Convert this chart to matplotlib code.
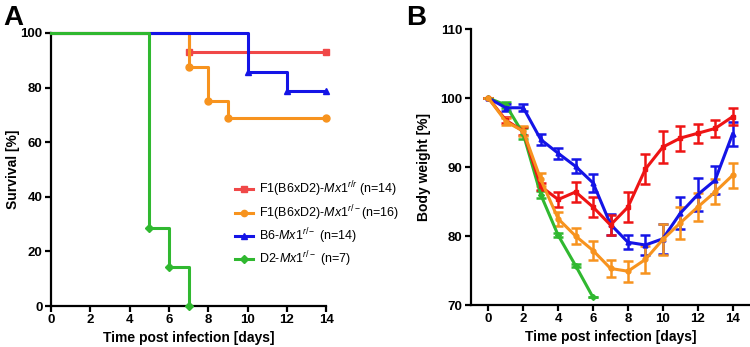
import matplotlib
matplotlib.use("Agg")
import matplotlib.pyplot as plt

plt.rcParams["font.family"] = ["Liberation Sans", "DejaVu Sans"]
plt.rcParams["mathtext.fontset"] = "custom"
plt.rcParams["mathtext.rm"] = "Liberation Sans"
plt.rcParams["mathtext.it"] = "Liberation Sans:italic"

# ---- panel A: survival (Kaplan-Meier steps) ----
surv_labels = [r"F1(B6xD2)-$\mathit{Mx1}^{r/r}$ (n=14)",
               r"F1(B6xD2)-$\mathit{Mx1}^{r/-}$(n=16)",
               r"B6-$\mathit{Mx1}^{r/-}$ (n=14)",
               r"D2-$\mathit{Mx1}^{r/-}$ (n=7)"]
surv_days = [[0, 7, 14],
             [0, 7, 8, 9, 14],
             [0, 10, 12, 14],
             [0, 5, 6, 7]]
surv_pct = [[100, 92.86, 92.86],
            [100, 87.5, 75, 68.75, 68.75],
            [100, 85.71, 78.57, 78.57],
            [100, 28.57, 14.29, 0]]

# ---- panel B: body weight (mean +- sem) ----
days = list(range(15))
w_red = [100, 96.8, 95.2, 87.2, 85.3, 86.4, 84.2, 81.6, 84.2, 89.7, 92.9, 94.2, 94.9, 95.6, 97.3]
e_red = [0, 0.4, 0.6, 0.5, 1.1, 1.5, 1.5, 1.5, 2.2, 2.2, 2.3, 1.8, 1.4, 1.2, 1.2]
w_blue = [100, 98.6, 98.6, 94.0, 92.0, 90.1, 87.7, 81.7, 79.1, 78.7, 79.6, 83.3, 86.0, 88.1, 94.8]
e_blue = [0, 0.5, 0.5, 0.8, 0.8, 1.0, 1.3, 1.5, 1.0, 1.5, 2.2, 2.3, 2.4, 2.0, 1.8]
w_orange = [100, 96.6, 95.2, 88.2, 82.5, 80.0, 77.9, 75.3, 74.9, 76.6, 79.5, 81.9, 84.2, 86.4, 88.8]
e_orange = [0, 0.5, 0.7, 1.0, 1.0, 1.2, 1.4, 1.2, 1.5, 2.0, 2.3, 2.3, 2.0, 1.8, 1.8]
days_green = list(range(7))
w_green = [100, 99.0, 94.8, 86.0, 80.1, 75.7, 71.1]
e_green = [0, 0.4, 0.8, 0.5, 0.3, 0.2, 0]

cols_a = ["#f04848", "#f7931e", "#1414e6", "#30b830"]
cols_b = {"red": "#ee1414", "orange": "#f7931e", "blue": "#1414e6", "green": "#30b830"}
marks = ["s", "o", "^", "D"]

fig = plt.figure(figsize=(7.5, 3.47), dpi=100)

axA = fig.add_axes([0.068, 0.118, 0.367, 0.787])
for i in range(4):
    axA.step(surv_days[i], surv_pct[i], where="post", color=cols_a[i], lw=2.2,
             clip_on=False, zorder=2 + i)
    axA.plot(surv_days[i][1:], surv_pct[i][1:], ls="none", marker=marks[i],
             ms=5 if marks[i] != "D" else 4, color=cols_a[i], clip_on=False, zorder=2 + i)
    axA.plot([], [], color=cols_a[i], lw=2.2, marker=marks[i], ms=4.5,
             label=surv_labels[i])
axA.set_xlim(0, 14)
axA.set_ylim(0, 100)
axA.set_xticks(range(0, 15, 2))
axA.set_yticks(range(0, 101, 20))
axA.set_xlabel("Time post infection [days]", fontsize=10, fontweight="bold", labelpad=3.5)
axA.set_ylabel("Survival [%]", fontsize=10, fontweight="bold", labelpad=0.5)
axA.legend(loc="upper left", bbox_to_anchor=(0.305, 0.5), bbox_transform=fig.transFigure,
           frameon=False, fontsize=9, handlelength=1.4, handletextpad=0.5,
           labelspacing=0.3, borderpad=0)

axB = fig.add_axes([0.628, 0.121, 0.372, 0.795])
series = [(days_green, w_green, e_green, "green", "D", 3),
          (days, w_blue, e_blue, "blue", "^", 3.5),
          (days, w_red, e_red, "red", "s", 3.5),
          (days, w_orange, e_orange, "orange", "o", 3.5)]
for x, y, e, c, m, ms in series:
    axB.errorbar(x, y, yerr=e, color=cols_b[c], lw=2.2, elinewidth=1.8,
                 capsize=3.5, capthick=1.8, marker=m, ms=ms)
axB.set_xlim(-1, 15)
axB.set_ylim(70, 110)
axB.set_xticks(range(0, 15, 2))
axB.set_yticks(range(70, 111, 10))
axB.set_xlabel("Time post infection [days]", fontsize=10, fontweight="bold", labelpad=3.5)
axB.set_ylabel("Body weight [%]", fontsize=10, fontweight="bold", labelpad=7)

for ax in (axA, axB):
    for s in ("top", "right"):
        ax.spines[s].set_visible(False)
    for s in ("left", "bottom"):
        ax.spines[s].set_linewidth(1.6)
    ax.tick_params(direction="out", length=4.5, width=1.6, labelsize=9.5, pad=1.5)
    for lab in ax.get_xticklabels() + ax.get_yticklabels():
        lab.set_fontweight("bold")

fig.text(0.005, 0.985, "A", fontsize=20, fontweight="bold", va="top")
fig.text(0.541, 0.985, "B", fontsize=20, fontweight="bold", va="top")

fig.savefig("out.png", dpi=100)
